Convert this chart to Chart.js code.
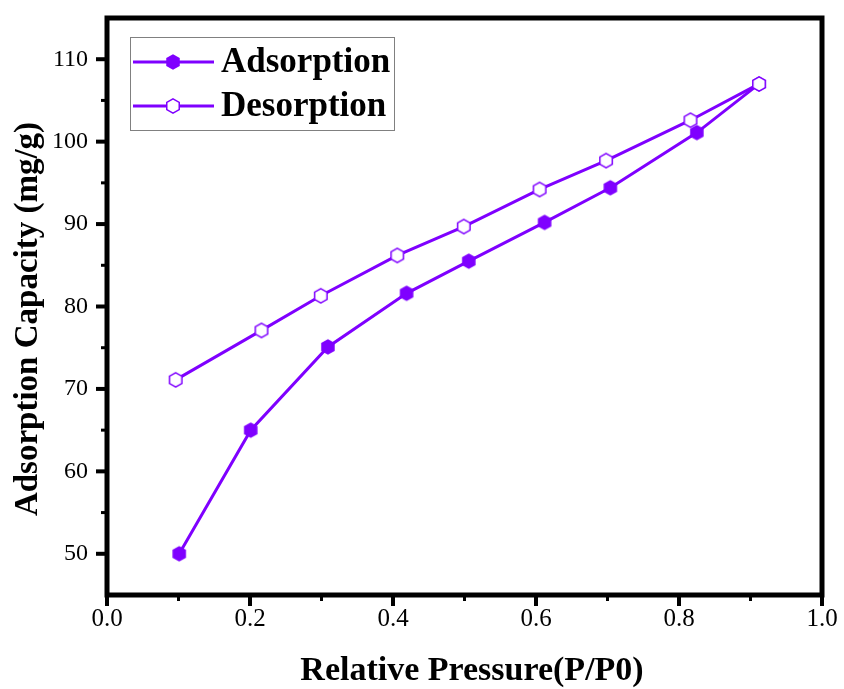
<!DOCTYPE html>
<html><head><meta charset="utf-8">
<script src="https://cdn.jsdelivr.net/npm/chart.js@4"></script>
<style>html,body{margin:0;padding:0;background:#fff}#wrap{width:844px;height:689px}</style>
</head><body><div id="wrap"><canvas id="c" width="844" height="689"></canvas></div>
<script>
const adsX = [0.101, 0.201, 0.309, 0.419, 0.506, 0.612, 0.704, 0.825, 0.912];
const adsY = [50.0, 65.0, 75.1, 81.6, 85.5, 90.2, 94.4, 101.1, 107.0];
const desX = [0.096, 0.216, 0.299, 0.406, 0.499, 0.605, 0.698, 0.816, 0.912];
const desY = [71.1, 77.1, 81.3, 86.2, 89.7, 94.2, 97.7, 102.6, 107.0];
const seriesNames = ['Adsorption', 'Desorption'];
const xTicks = [0, 0.2, 0.4, 0.6, 0.8, 1.0];
const xMinor = [0.1, 0.3, 0.5, 0.7, 0.9];
const yTicks = [50, 60, 70, 80, 90, 100, 110];
const yMinor = [55, 65, 75, 85, 95, 105];
const xTitle = 'Relative Pressure(P/P0)';
const yTitle = 'Adsorption Capacity (mg/g)';

const PURPLE = '#7f00ff';
const SERIF = '"Liberation Serif","Times New Roman",serif';

function hexCanvas(fill, stroke) {
  const s = 18, c = document.createElement('canvas');
  c.width = s; c.height = s;
  const g = c.getContext('2d');
  const r = stroke ? 7.2 : 7.8;
  g.beginPath();
  for (let i = 0; i < 6; i++) {
    const a = -Math.PI / 2 + i * Math.PI / 3;
    const px = s / 2 + r * Math.cos(a), py = s / 2 + r * Math.sin(a);
    if (i) g.lineTo(px, py); else g.moveTo(px, py);
  }
  g.closePath();
  g.fillStyle = fill; g.fill();
  if (stroke) { g.lineWidth = 1.5; g.strokeStyle = stroke; g.stroke(); }
  return c;
}
const hexFilled = hexCanvas(PURPLE, null);
const hexHollow = hexCanvas('#ffffff', PURPLE);

const decorPlugin = {
  id: 'decor',
  afterDraw(chart) {
    const ctx = chart.ctx, a = chart.chartArea;
    const xs = chart.scales.x, ys = chart.scales.y;
    ctx.save();
    ctx.strokeStyle = '#000';
    ctx.lineCap = 'butt';
    const seg = (x1, y1, x2, y2, w) => { ctx.lineWidth = w; ctx.beginPath(); ctx.moveTo(x1, y1); ctx.lineTo(x2, y2); ctx.stroke(); };
    xTicks.forEach(v => { const p = xs.getPixelForValue(v); seg(p, a.bottom, p, a.bottom + 11, 4); });
    xMinor.forEach(v => { const p = xs.getPixelForValue(v); seg(p, a.bottom, p, a.bottom + 6, 3); });
    yTicks.forEach(v => { const p = ys.getPixelForValue(v); seg(a.left - 11, p, a.left, p, 4); });
    yMinor.forEach(v => { const p = ys.getPixelForValue(v); seg(a.left - 6, p, a.left, p, 3); });
    ctx.lineWidth = 5;
    ctx.strokeRect(a.left, a.top, a.right - a.left, a.bottom - a.top);

    // axis titles
    ctx.fillStyle = '#000';
    ctx.font = 'bold 34px ' + SERIF;
    ctx.textAlign = 'center';
    ctx.textBaseline = 'alphabetic';
    ctx.fillText(xTitle, 472, 680);
    ctx.save();
    ctx.translate(37, 319);
    ctx.rotate(-Math.PI / 2);
    ctx.font = 'bold 33px ' + SERIF;
    ctx.fillText(yTitle, 0, 0);
    ctx.restore();

    // legend
    const lx = 130.5, ly = 37.5, lw = 264, lh = 93;
    ctx.fillStyle = '#fff';
    ctx.fillRect(lx, ly, lw, lh);
    ctx.lineWidth = 1;
    ctx.strokeStyle = '#808080';
    ctx.strokeRect(lx, ly, lw, lh);
    const rows = [62, 106];
    chart.data.datasets.forEach((ds, i) => {
      const y = rows[i];
      ctx.strokeStyle = ds.borderColor;
      ctx.lineWidth = 3;
      ctx.beginPath(); ctx.moveTo(133, y); ctx.lineTo(214, y); ctx.stroke();
      const img = ds.pointStyle;
      ctx.drawImage(img, 173 - img.width / 2, y - img.height / 2);
      ctx.fillStyle = '#000';
      ctx.font = 'bold 35px ' + SERIF;
      ctx.textAlign = 'left';
      ctx.textBaseline = 'middle';
      ctx.fillText(ds.label, 221, y + 1);
    });
    ctx.restore();
  }
};

new Chart(document.getElementById('c'), {
  type: 'line',
  data: {
    datasets: [
      {
        label: seriesNames[0],
        data: adsX.map((x, i) => ({ x: x, y: adsY[i] })),
        borderColor: PURPLE, backgroundColor: PURPLE, borderWidth: 3,
        pointStyle: hexFilled, pointRadius: 8, pointHoverRadius: 8,
        tension: 0, fill: false, order: 1
      },
      {
        label: seriesNames[1],
        data: desX.map((x, i) => ({ x: x, y: desY[i] })),
        borderColor: PURPLE, backgroundColor: '#fff', borderWidth: 3,
        pointStyle: hexHollow, pointRadius: 8, pointHoverRadius: 8,
        tension: 0, fill: false, order: 0
      }
    ]
  },
  options: {
    responsive: false,
    animation: false,
    devicePixelRatio: 1,
    layout: { padding: { top: 18, right: 22, left: 0, bottom: 0 } },
    plugins: { legend: { display: false }, tooltip: { enabled: false } },
    scales: {
      x: {
        type: 'linear', min: 0, max: 1,
        afterBuildTicks: s => { s.ticks = xTicks.map(v => ({ value: v })); },
        afterFit: s => { s.height = 94; s.paddingLeft = 0; s.paddingRight = 0; },
        grid: { display: false, drawTicks: false },
        border: { display: false },
        ticks: {
          padding: 9, color: '#000', maxRotation: 0, autoSkip: false,
          font: { family: SERIF, size: 25 },
          callback: v => Number(v).toFixed(1)
        }
      },
      y: {
        type: 'linear', min: 45, max: 115,
        afterBuildTicks: s => { s.ticks = yTicks.map(v => ({ value: v })); },
        afterFit: s => { s.width = 107; s.paddingTop = 0; s.paddingBottom = 0; },
        grid: { display: false, drawTicks: false },
        border: { display: false },
        ticks: {
          padding: 19, color: '#000', autoSkip: false,
          font: { family: SERIF, size: 24 },
          callback: v => String(v)
        }
      }
    }
  },
  plugins: [decorPlugin]
});
</script>
</body></html>
